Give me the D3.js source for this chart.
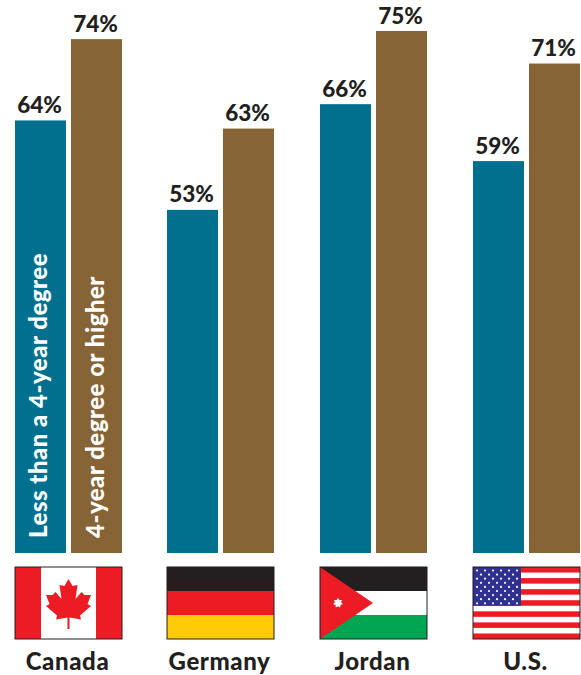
<!DOCTYPE html>
<html>
<head>
<meta charset="utf-8">
<script src="https://cdn.jsdelivr.net/npm/d3@7"></script>
<style>
  html, body { margin: 0; padding: 0; background: #fff; }
  text { font-family: Lato, "Open Sans", sans-serif; }
</style>
</head>
<body>
<svg id="chart" width="581" height="675"></svg>
<script>
// Share of respondents by education level in four countries
const countries = ["Canada", "Germany", "Jordan", "U.S."];
const lessThanDegree = [64, 53, 66, 59];
const degreeOrHigher = [74, 63, 75, 71];
const seriesNames = ["Less than a 4-year degree", "4-year degree or higher"];

const TEAL = "#00708f", BROWN = "#876435", INK = "#231f20";
const RED = "#ed1c24", GOLD = "#ffcb08", GREEN = "#00a651", NAVY = "#2e3192";

const svg = d3.select("#chart");
const baseline = 553;

// The value axis does not start at zero
const y = d3.scaleLinear().domain([10.8, 75]).range([baseline, 31]);

const x0 = d3.scaleOrdinal().domain(countries).range([15, 167, 320, 473]);
const barW = 51, pairOffset = 56;

const rows = countries.map((c, i) => ({
  country: c,
  values: [lessThanDegree[i], degreeOrHigher[i]]
}));

const groups = svg.selectAll("g.country").data(rows).join("g")
  .attr("class", "country")
  .attr("transform", d => `translate(${x0(d.country)},0)`);

groups.selectAll("rect.bar").data(d => d.values).join("rect")
  .attr("class", "bar")
  .attr("x", (d, i) => i * pairOffset)
  .attr("width", barW)
  .attr("y", d => y(d))
  .attr("height", d => baseline - y(d))
  .attr("fill", (d, i) => i ? BROWN : TEAL);

groups.selectAll("text.value").data(d => d.values).join("text")
  .attr("class", "value")
  .attr("x", (d, i) => i * pairOffset + barW / 2 - 1)
  .attr("y", d => y(d) - 7.5)
  .attr("text-anchor", "middle")
  .attr("font-size", 22.5)
  .attr("font-weight", 900)
  .attr("fill", INK)
  .text(d => d + "%");

// Series names run up the two Canada bars
seriesNames.forEach((name, i) => {
  svg.append("text")
    .attr("transform", `translate(${x0("Canada") + i * pairOffset + 32 + i},538) rotate(-90)`)
    .attr("font-size", 24)
    .attr("font-weight", 900)
    .attr("letter-spacing", 0.5)
    .attr("fill", "#fff")
    .text(name);
});

// Flags
const flagW = 107, flagH = 72, flagTop = 567;
const flag = groups.append("g").attr("transform", `translate(0,${flagTop})`);

const draw = {
  "Canada"(g) {
    g.append("rect").attr("width", flagW).attr("height", flagH).attr("fill", "#fff");
    g.append("rect").attr("width", 26).attr("height", flagH).attr("fill", RED);
    g.append("rect").attr("x", flagW - 26).attr("width", 26).attr("height", flagH).attr("fill", RED);
    // Right half of the maple leaf, mirrored about the flag's centre line
    const half = [[0,12],[4,19],[9,18],[7,32],[13,25],[16,28],[22.5,28],[19,37],[22.5,39],[11.5,48.5],[12.5,52.5],[1,50.5],[1,62]];
    const pts = half.map(([a, b]) => [53.5 + a, b])
      .concat(half.slice().reverse().map(([a, b]) => [53.5 - a, b]));
    g.append("path").attr("d", d3.line()(pts) + "Z").attr("fill", RED);
  },
  "Germany"(g) {
    [INK, RED, GOLD].forEach((c, i) => {
      g.append("rect").attr("y", i * flagH / 3).attr("width", flagW).attr("height", flagH / 3).attr("fill", c);
    });
  },
  "Jordan"(g) {
    [INK, "#fff", GREEN].forEach((c, i) => {
      g.append("rect").attr("y", i * flagH / 3).attr("width", flagW).attr("height", flagH / 3).attr("fill", c);
    });
    g.append("path").attr("d", `M0,0L53,${flagH / 2}L0,${flagH}Z`).attr("fill", RED);
    const star = d3.range(14).map(k => {
      const r = k % 2 ? 3.2 : 5, a = k * Math.PI / 7;
      return [18 + r * Math.sin(a), 36 - r * Math.cos(a)];
    });
    g.append("path").attr("d", d3.line()(star) + "Z").attr("fill", "#fff");
  },
  "U.S."(g) {
    g.append("rect").attr("width", flagW).attr("height", flagH).attr("fill", "#fff");
    d3.range(0, 13, 2).forEach(k => {
      g.append("rect").attr("y", k * flagH / 13).attr("width", flagW)
        .attr("height", flagH / 13).attr("fill", RED);
    });
    g.append("rect").attr("width", 48).attr("height", flagH * 7 / 13).attr("fill", NAVY);
    d3.range(9).forEach(r => {
      const n = r % 2 ? 5 : 6;
      d3.range(n).forEach(c => {
        g.append("circle")
          .attr("cx", (r % 2 ? 8 : 4) + c * 8)
          .attr("cy", 3.5 + r * 4.1)
          .attr("r", 1.1).attr("fill", "#fff");
      });
    });
  }
};

flag.each(function(d) {
  const g = d3.select(this);
  draw[d.country](g);
  g.append("rect").attr("width", flagW).attr("height", flagH)
    .attr("fill", "none").attr("stroke", INK).attr("stroke-width", 1);
});

// Country names beneath the flags
groups.append("text")
  .attr("x", flagW / 2 - 1)
  .attr("y", 670)
  .attr("text-anchor", "middle")
  .attr("font-size", 24)
  .attr("font-weight", 900)
  .attr("letter-spacing", 0.6)
  .attr("fill", INK)
  .text(d => d.country);
</script>
</body>
</html>
